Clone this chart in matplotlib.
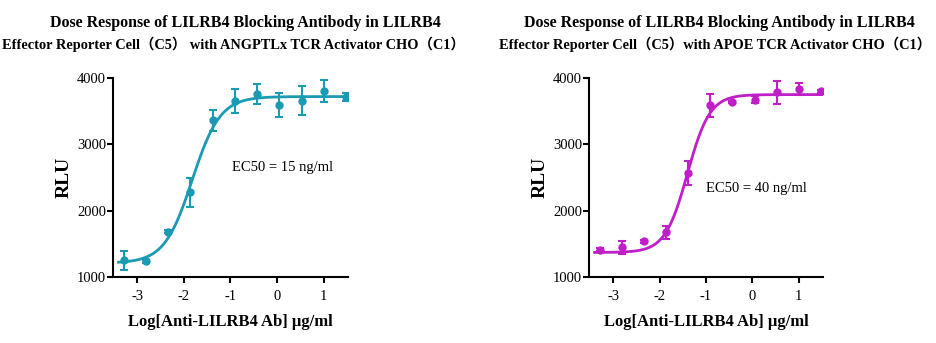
import matplotlib
matplotlib.use('Agg')
import matplotlib.pyplot as plt
import numpy as np

plt.rcParams['axes.unicode_minus'] = False
serif = ['Liberation Serif', 'Noto Sans CJK SC']

# log10 of antibody concentration (ug/ml), 3-fold dilutions from 30 ug/ml
log_dose = [-3.294, -2.816, -2.339, -1.862, -1.385, -0.908, -0.431, 0.046, 0.523, 1.0, 1.477]

# panel 1: ANGPTLx activator
rlu_1 = [1252, 1237, 1686, 2276, 3360, 3652, 3758, 3592, 3657, 3798, 3713]
err_1 = [140, 20, 20, 215, 160, 180, 150, 180, 220, 165, 55]
fit_1 = dict(bottom=1210, top=3720, log_ec50=-1.82, hill=1.45)

# panel 2: APOE activator
rlu_2 = [1412, 1447, 1538, 1673, 2568, 3588, 3638, 3673, 3784, 3834, 3799]
err_2 = [25, 100, 20, 100, 175, 175, 20, 50, 170, 95, 20]
fit_2 = dict(bottom=1370, top=3750, log_ec50=-1.40, hill=1.8)

title_top = 'Dose Response of LILRB4 Blocking Antibody in LILRB4'
title_bottom = ['Effector Reporter Cell（C5） with ANGPTLx TCR Activator CHO（C1）',
                'Effector Reporter Cell（C5）with APOE TCR Activator CHO（C1）']
ec50_labels = ['EC50 = 15 ng/ml', 'EC50 = 40 ng/ml']
ec50_pos = [(-0.97, 2650), (-0.99, 2340)]
colors = ['#1a9ab3', '#c01ec8']


def four_pl(x, bottom, top, log_ec50, hill):
    return bottom + (top - bottom) / (1 + 10 ** ((log_ec50 - x) * hill))


fig = plt.figure(figsize=(9.36, 3.43), dpi=100)
boxes = [[0.1207, 0.1924, 0.2511, 0.5802], [0.6293, 0.1924, 0.2500, 0.5802]]
panels = [(rlu_1, err_1, fit_1), (rlu_2, err_2, fit_2)]
title_x = [(245, 233), (719, 715)]   # pixel centres of the two title lines

for i in range(2):
    rlu, err, fit = panels[i]
    ax = fig.add_axes(boxes[i])
    xs = np.linspace(-3.4, 1.5, 300)
    ax.plot(xs, four_pl(xs, **fit), color=colors[i], lw=2)
    ax.errorbar(log_dose, rlu, yerr=err, fmt='o', color=colors[i], ms=5,
                capsize=3, elinewidth=1.5, capthick=1.5)
    ax.set_xlim(-3.52, 1.52)
    ax.set_ylim(1000, 4000)
    ax.set_xticks([-3, -2, -1, 0, 1])
    ax.set_yticks([1000, 2000, 3000, 4000])
    for s in ['top', 'right']:
        ax.spines[s].set_visible(False)
    for s in ['left', 'bottom']:
        ax.spines[s].set_linewidth(1.5)
    ax.tick_params(direction='out', length=4, width=1.5, labelsize=10.5)
    ax.tick_params(axis='y', pad=1)
    ax.tick_params(axis='x', pad=5)
    for lab in ax.get_xticklabels() + ax.get_yticklabels():
        lab.set_family(serif)
    ax.set_xlabel('Log[Anti-LILRB4 Ab] μg/ml', family=serif, fontsize=12,
                  fontweight='bold', labelpad=8)
    ax.set_ylabel('RLU', family=serif, fontsize=14, fontweight='bold', labelpad=3)
    ax.text(ec50_pos[i][0], ec50_pos[i][1], ec50_labels[i], family=serif,
            fontsize=10.5, va='center')
    fig.text(title_x[i][0] / 936, 1 - 23 / 343, title_top, family=serif,
             fontsize=11.5, fontweight='bold', ha='center', va='center')
    fig.text(title_x[i][1] / 936, 1 - 44 / 343, title_bottom[i], family=serif,
             fontsize=10.4, fontweight='bold', ha='center', va='center')

fig.savefig('out.png', dpi=100)
